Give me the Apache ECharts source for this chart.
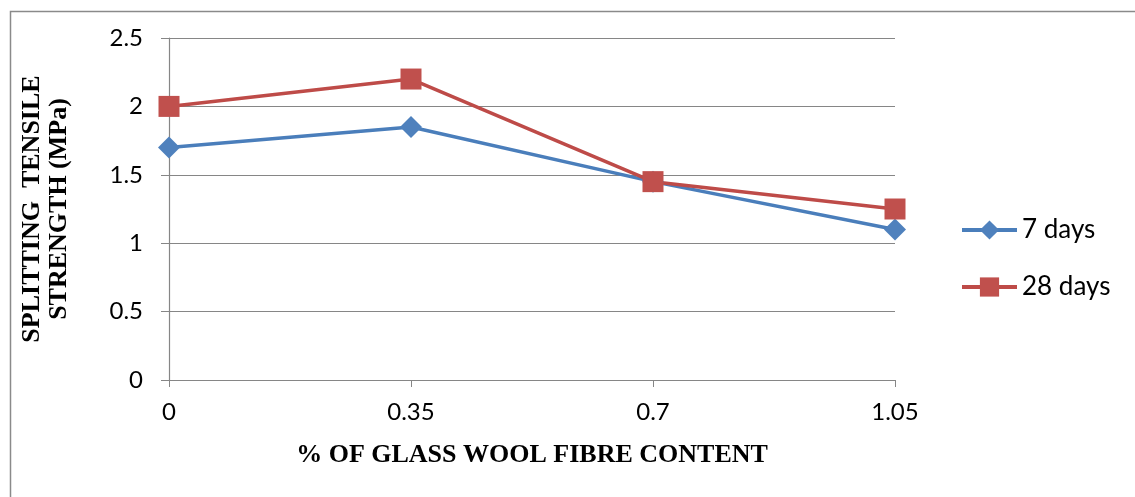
<!DOCTYPE html>
<html>
<head>
<meta charset="utf-8">
<script src="https://cdn.jsdelivr.net/npm/echarts@6/dist/echarts.min.js"></script>
<style>html,body{margin:0;padding:0;background:#fff;}#c{width:1135px;height:497px;}</style>
</head>
<body>
<div id="c"></div>
<script>
const categories = ['0', '0.35', '0.7', '1.05'];
const days7 = [1.7, 1.85, 1.45, 1.1];
const days28 = [2.0, 2.2, 1.45, 1.25];
const seriesNames = ['7 days', '28 days'];

const chart = echarts.init(document.getElementById('c'));
const labelFont = 'Lato, "Open Sans", sans-serif';
const titleFont = '"Liberation Serif", "Times New Roman", serif';
chart.setOption({
  animation: false,
  graphic: [{
    type: 'rect', left: 8, top: 9,
    shape: { width: 1200, height: 600 },
    style: { fill: 'none', stroke: '#8a8a8a', lineWidth: 1.5 }
  }],
  grid: { left: 169, right: 240, top: 38, bottom: 117, containLabel: false, outerBoundsMode: 'none' },
  legend: {
    orient: 'vertical', left: 955, top: 212, padding: 5,
    itemWidth: 55, itemHeight: 24, itemGap: 31,
    lineStyle: { width: 4 },
    textStyle: { fontFamily: labelFont, fontSize: 26, color: '#000', lineHeight: 24 },
    data: seriesNames
  },
  xAxis: {
    type: 'category', data: categories, boundaryGap: false,
    name: '% OF GLASS WOOL FIBRE CONTENT', nameLocation: 'middle', nameGap: 62,
    nameTextStyle: { fontFamily: titleFont, fontWeight: 'bold', fontSize: 26, color: '#000' },
    axisLine: { lineStyle: { color: '#868686', width: 1.2 } },
    axisTick: { show: true, length: 7, lineStyle: { color: '#868686' } },
    axisLabel: { fontFamily: labelFont, fontSize: 24, color: '#000', margin: 20 }
  },
  yAxis: {
    type: 'value', min: 0, max: 2.5, interval: 0.5,
    name: 'SPLITTING  TENSILE\nSTRENGTH (MPa)', nameLocation: 'middle', nameGap: 96, nameRotate: 90,
    nameTextStyle: { fontFamily: titleFont, fontWeight: 'bold', fontSize: 26, color: '#000', lineHeight: 27 },
    axisLine: { show: true, lineStyle: { color: '#868686', width: 1.2 } },
    axisTick: { show: true, length: 8, lineStyle: { color: '#868686' } },
    splitLine: { lineStyle: { color: '#868686', width: 1 } },
    axisLabel: { fontFamily: labelFont, fontSize: 24, color: '#000', margin: 26 }
  },
  series: [{
    name: seriesNames[0], type: 'line', data: days7,
    symbol: 'diamond', symbolSize: 22,
    lineStyle: { color: '#4A7EBB', width: 3.5 },
    itemStyle: { color: '#4F81BD' }
  }, {
    name: seriesNames[1], type: 'line', data: days28,
    symbol: 'rect', symbolSize: 21,
    lineStyle: { color: '#BE4B48', width: 3.5 },
    itemStyle: { color: '#C0504D' }
  }]
});
</script>
</body>
</html>
